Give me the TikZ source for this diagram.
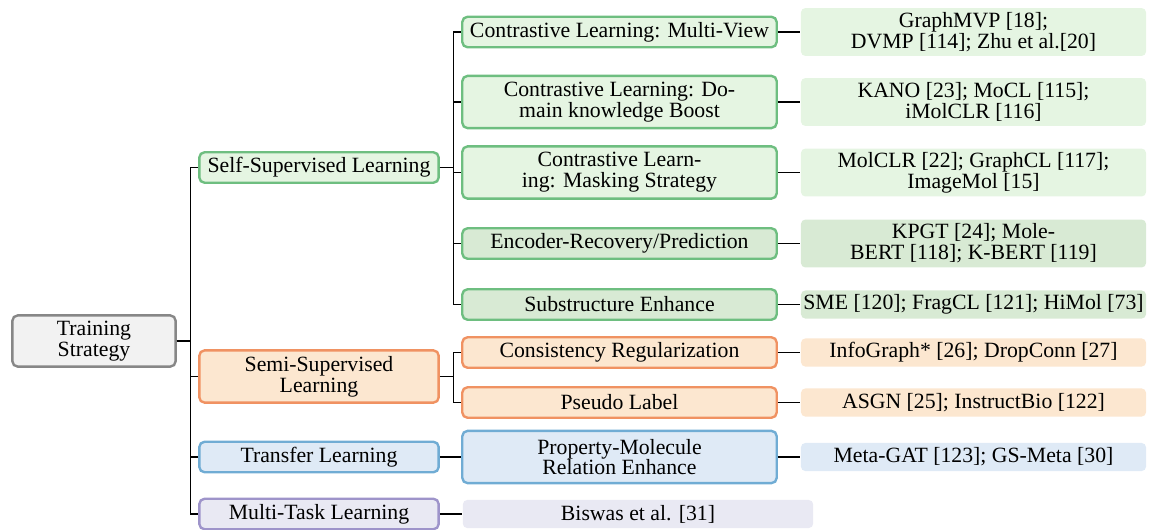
\documentclass[tikz,border=0pt]{standalone}
\usepackage{fontspec}
\setmainfont{Liberation Serif}
\usepackage{tikz}

\definecolor{rootline}{RGB}{135,135,135}
\definecolor{rootfill}{RGB}{242,242,242}
\definecolor{greenline}{RGB}{110,190,128}
\definecolor{greenfill}{RGB}{229,245,226}
\definecolor{greendark}{RGB}{216,234,212}
\definecolor{orangeline}{RGB}{240,146,98}
\definecolor{orangefill}{RGB}{252,231,208}
\definecolor{blueline}{RGB}{112,172,212}
\definecolor{bluefill}{RGB}{223,234,246}
\definecolor{purpleline}{RGB}{158,148,202}
\definecolor{purplefill}{RGB}{233,233,243}

\begin{document}
\begin{tikzpicture}[x=0.4596pt, y=-0.4596pt, line width=0.55pt,
  box/.style={rounded corners=2.4pt, line width=1.1pt, align=center, inner sep=0pt,
    font=\rmfamily\fontsize{10}{9.6}\selectfont},
  rootbox/.style={box, draw=rootline, fill=rootfill, minimum width=75pt, minimum height=23.5pt},
  onebox/.style={box, minimum width=110pt, minimum height=14pt},
  twobox/.style={box, minimum width=144.5pt, minimum height=14pt},
  leafbox/.style={rounded corners=2pt, align=center, inner sep=0pt, minimum width=158.6pt,
    minimum height=12.9pt, font=\rmfamily\fontsize{10}{9.6}\selectfont},
  tall/.style={minimum height=24pt},
  tallleaf/.style={minimum height=22pt},
  ssl/.style={draw=greenline, fill=greenfill},
  ssldark/.style={draw=greenline, fill=greendark},
  semi/.style={draw=orangeline, fill=orangefill},
  trans/.style={draw=blueline, fill=bluefill},
  multi/.style={draw=purpleline, fill=purplefill}]
\useasboundingbox (0,0) rectangle (1150,529) ;

\node[rootbox] (ts) at (94,341) {Training\\Strategy} ;

\node[onebox, ssl] (sslearn) at (319,167.5) {Self-Supervised Learning} ;
\node[onebox, semi, tall] (semilearn) at (319,376.5) {Semi-Supervised\\Learning} ;
\node[onebox, trans] (translearn) at (319,457) {Transfer Learning} ;
\node[onebox, multi] (multilearn) at (319,514) {Multi-Task Learning} ;

\node[twobox, ssl] (clmv) at (619.5,32) {Contrastive Learning: Multi-View} ;
\node[twobox, ssl, tall] (cldk) at (619.5,102) {Contrastive Learning: Do-\\main knowledge Boost} ;
\node[twobox, ssl, tall] (clms) at (619.5,172.5) {Contrastive Learn-\\ing: Masking Strategy} ;
\node[twobox, ssldark] (encrec) at (619.5,243.5) {Encoder-Recovery/Prediction} ;
\node[twobox, ssldark] (subenh) at (619.5,304.5) {Substructure Enhance} ;
\node[twobox, semi] (consreg) at (619.5,352.5) {Consistency Regularization} ;
\node[twobox, semi] (pseudo) at (619.5,402.5) {Pseudo Label} ;
\node[twobox, trans, tall] (propmol) at (619.5,457) {Property-Molecule\\Relation Enhance} ;

\node[leafbox, fill=greenfill, tallleaf] (clmvref) at (973.5,32) {GraphMVP [18];\\DVMP [114]; Zhu et al.[20]} ;
\node[leafbox, fill=greenfill, tallleaf] (cldkref) at (973.5,102) {KANO [23]; MoCL [115];\\iMolCLR [116]} ;
\node[leafbox, fill=greenfill, tallleaf] (clmsref) at (973.5,172.5) {MolCLR [22]; GraphCL [117];\\ImageMol [15]} ;
\node[leafbox, fill=greendark, tallleaf] (encrecref) at (973.5,243.5) {KPGT [24]; Mole-\\BERT [118]; K-BERT [119]} ;
\node[leafbox, fill=greendark] (subenhref) at (973.5,304.5) {SME [120]; FragCL [121]; HiMol [73]} ;
\node[leafbox, fill=orangefill] (consregref) at (973.5,352.5) {InfoGraph* [26]; DropConn [27]} ;
\node[leafbox, fill=orangefill] (pseudoref) at (973.5,402.5) {ASGN [25]; InstructBio [122]} ;
\node[leafbox, fill=bluefill] (propmolref) at (973.5,457) {Meta-GAT [123]; GS-Meta [30]} ;
\node[leafbox, fill=purplefill, minimum width=161pt] (multiref) at (638,514) {Biswas et al. [31]} ;

\draw[black] (ts.east) -- ++(14,0) |- (sslearn.west) ;
\draw[black] (ts.east) -- ++(14,0) |- (semilearn.west) ;
\draw[black] (ts.east) -- ++(14,0) |- (translearn.west) ;
\draw[black] (ts.east) -- ++(14,0) |- (multilearn.west) ;
\draw[black] (sslearn.east) -- ++(14,0) |- (clmv.west) ;
\draw[black] (sslearn.east) -- ++(14,0) |- (cldk.west) ;
\draw[black] (sslearn.east) -- ++(14,0) |- (clms.west) ;
\draw[black] (sslearn.east) -- ++(14,0) |- (encrec.west) ;
\draw[black] (sslearn.east) -- ++(14,0) |- (subenh.west) ;
\draw[black] (semilearn.east) -- ++(14,0) |- (consreg.west) ;
\draw[black] (semilearn.east) -- ++(14,0) |- (pseudo.west) ;
\draw[black] (translearn.east) -- (propmol.west) ;
\draw[black] (multilearn.east) -- (multiref.west) ;
\draw[black] (clmv.east) -- (clmvref.west) ;
\draw[black] (cldk.east) -- (cldkref.west) ;
\draw[black] (clms.east) -- (clmsref.west) ;
\draw[black] (encrec.east) -- (encrecref.west) ;
\draw[black] (subenh.east) -- (subenhref.west) ;
\draw[black] (consreg.east) -- (consregref.west) ;
\draw[black] (pseudo.east) -- (pseudoref.west) ;
\draw[black] (propmol.east) -- (propmolref.west) ;
\end{tikzpicture}
\end{document}
